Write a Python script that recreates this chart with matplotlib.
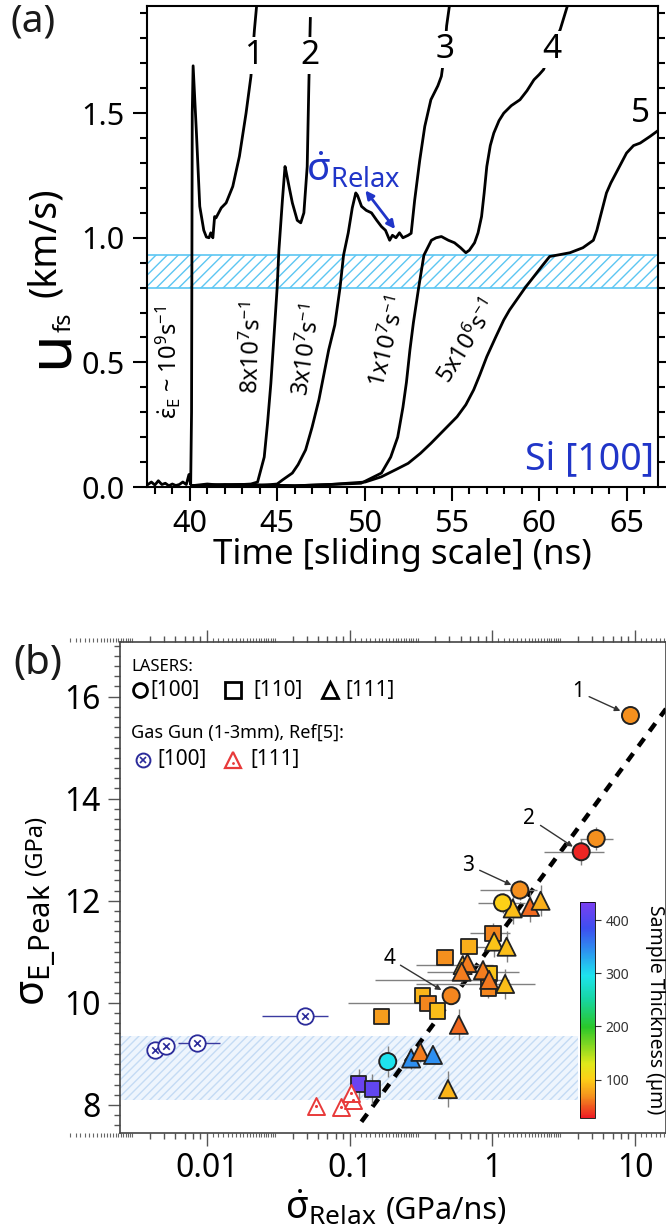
import numpy as np
import matplotlib
matplotlib.use("Agg")
import matplotlib.pyplot as plt
import matplotlib.transforms as mtrans
from matplotlib.colors import LinearSegmentedColormap, Normalize
from matplotlib.ticker import MultipleLocator, FixedLocator, FixedFormatter, NullFormatter, FormatStrFormatter

plt.rcParams['font.family'] = ['Noto Sans', 'DejaVu Sans']
plt.rcParams['mathtext.fontset'] = 'custom'
plt.rcParams['mathtext.rm'] = 'Noto Sans'
plt.rcParams['mathtext.it'] = 'Noto Sans'
plt.rcParams['mathtext.bf'] = 'Noto Sans:bold'
plt.rcParams['hatch.linewidth'] = 1.0

BLUE = '#2035c8'

# ---------------- panel (a) data : free surface velocity traces ----------------
# trace 1  (strain rate ~1e9 /s)
t_1 = [37.6, 37.8, 38.0, 38.2, 38.4, 38.6, 38.8, 39.0, 39.2, 39.4, 39.6, 39.8, 39.95, 40.05,
       40.1, 40.14, 40.19, 40.38, 40.57, 40.8, 40.95, 41.1, 41.2, 41.32, 41.42, 41.5, 41.8,
       42.08, 42.46, 42.84, 43.22, 43.5, 43.7, 43.85]
u_1 = [0.01, 0.02, 0.008, 0.025, 0.01, 0.015, 0.005, 0.012, 0.006, 0.01, 0.02, 0.01, 0.05, 0.01,
       0.3, 1.5, 1.69, 1.42, 1.126, 1.03, 1.003, 1.0, 1.02, 1.0, 1.085, 1.08, 1.12,
       1.14, 1.206, 1.327, 1.50, 1.648, 1.835, 1.95]
# trace 2  (8e7 /s)
t_2 = [40.1, 41.0, 42.0, 43.0, 43.5, 43.88, 44.26, 44.45, 44.64, 44.83, 45.0, 45.1, 45.2, 45.3,
       45.45, 45.5, 45.68, 45.87, 46.15, 46.35, 46.53, 46.72, 46.82, 46.9]
u_2 = [0.005, 0.012, 0.006, 0.01, 0.012, 0.02, 0.12, 0.256, 0.416, 0.617, 0.8, 0.95, 1.05, 1.15,
       1.286, 1.27, 1.206, 1.14, 1.07, 1.06, 1.1, 1.286, 1.634, 1.88]
# trace 3  (3e7 /s)
t_3 = [40.1, 42.0, 44.0, 45.0, 45.3, 45.87, 46.2, 46.63, 47.0, 47.39, 47.95, 48.3, 48.6, 48.8,
       49.07, 49.3, 49.5, 49.6, 49.83, 50.1, 50.4, 50.7, 50.97, 51.2, 51.44, 51.6, 51.8, 52.0,
       52.2, 52.5, 52.67, 52.87, 53.16, 53.45, 53.8, 54.2, 54.4, 54.6, 54.7, 54.9]
u_3 = [0.005, 0.01, 0.006, 0.012, 0.028, 0.056, 0.09, 0.149, 0.24, 0.35, 0.55, 0.65, 0.8, 0.93,
       1.02, 1.12, 1.18, 1.17, 1.126, 1.11, 1.10, 1.07, 1.045, 1.03, 0.99, 1.01, 1.0, 1.02,
       1.0, 1.01, 1.018, 1.15, 1.31, 1.447, 1.554, 1.61, 1.648, 1.75, 1.85, 1.95]
# trace 4  (1e7 /s)
t_4 = [40.1, 43.0, 46.0, 48.0, 49.8, 50.97, 51.5, 51.9, 52.2, 52.4, 52.6, 52.8, 53.1, 53.4,
       53.83, 54.1, 54.4, 54.8, 55.15, 55.5, 55.8, 56.0, 56.3, 56.5, 56.7, 56.85, 57.0, 57.2,
       57.4, 57.7, 57.97, 58.4, 58.9, 59.3, 59.7, 60.0, 60.25, 60.7, 61.2, 61.7]
u_4 = [0.005, 0.01, 0.005, 0.01, 0.015, 0.056, 0.12, 0.2, 0.32, 0.42, 0.55, 0.66, 0.8, 0.93,
       0.99, 1.0, 1.005, 0.99, 0.98, 0.96, 0.94, 0.95, 0.98, 1.02, 1.085, 1.18, 1.286, 1.37,
       1.42, 1.47, 1.50, 1.53, 1.554, 1.59, 1.634, 1.655, 1.675, 1.76, 1.835, 1.95]
# trace 5  (5e6 /s)
t_5 = [40.1, 43.0, 46.0, 48.0, 50.04, 50.97, 51.8, 52.5, 53.2, 53.8, 54.5, 55.3, 55.8, 56.25,
       56.6, 57.0, 57.5, 57.97, 58.3, 58.7, 59.2, 59.7, 60.2, 60.6, 61.0, 61.76, 62.5, 63.1,
       63.3, 63.5, 63.85, 64.1, 64.4, 64.7, 65.0, 65.4, 65.78, 66.35, 66.8]
u_5 = [0.005, 0.008, 0.005, 0.01, 0.02, 0.041, 0.07, 0.095, 0.135, 0.175, 0.225, 0.282, 0.33, 0.39,
       0.45, 0.523, 0.6, 0.67, 0.71, 0.75, 0.8, 0.845, 0.89, 0.925, 0.93, 0.94, 0.96, 0.99,
       1.03, 1.085, 1.18, 1.22, 1.26, 1.3, 1.34, 1.37, 1.38, 1.407, 1.43]

traces = [(t_1, u_1), (t_2, u_2), (t_3, u_3), (t_4, u_4), (t_5, u_5)]
trace_ids = ['1', '2', '3', '4', '5']
id_pos = [(43.65, 1.73), (46.85, 1.73), (54.6, 1.755), (60.7, 1.755), (65.8, 1.50)]
rate_labels = [r'$\dot{\varepsilon}_{\rm E}$ ~ 10$^{9}$s$^{-1}$', r'8x10$^{7}$s$^{-1}$',
               r'3x10$^{7}$s$^{-1}$', r'1x10$^{7}$s$^{-1}$', r'5x10$^{6}$s$^{-1}$']
rate_pos = [(38.75, 0.50), (43.6, 0.56), (46.75, 0.55), (51.4, 0.58), (55.9, 0.58)]
rate_rot = [90, 88, 82, 76, 58]
band_a = (0.80, 0.93)

# ---------------- panel (b) data : peak elastic stress vs relaxation rate ----------------
# laser shots, circles = [100]
c_x = [9.3, 5.35, 4.2, 1.56, 1.18, 0.515, 0.185]
c_y = [15.63, 13.22, 12.96, 12.21, 11.96, 10.14, 8.85]
c_th = [69, 69, 32, 69, 101, 66, 296]
c_xlo = [9.3, 4.1, 2.3, 0.82, 0.8, 0.515, 0.185]
c_xhi = [9.3, 7.0, 6.1, 2.05, 1.7, 0.515, 0.185]
c_ye = [0, 0.23, 0.25, 0.2, 0.2, 0, 0.3]
# squares = [110]
s_x = [1.01, 0.686, 0.466, 0.95, 0.94, 0.323, 0.354, 0.411, 0.167, 0.116, 0.144]
s_y = [11.36, 11.1, 10.89, 10.58, 10.29, 10.15, 9.99, 9.84, 9.74, 8.41, 8.31]
s_th = [66, 85, 69, 95, 66, 88, 66, 92, 75, 420, 412]
s_xlo = [0.70, 0.6, 0.466, 0.95, 0.94, 0.323, 0.097, 0.411, 0.167, 0.116, 0.144]
s_xhi = [1.33, 0.95, 0.466, 0.95, 0.94, 0.323, 0.354, 0.411, 0.167, 0.116, 0.144]
s_ye = [0.2, 0, 0, 0, 0.2, 0, 0, 0, 0, 0.3, 0.3]
# triangles = [111]
tr_x = [1.39, 1.84, 2.18, 1.03, 1.26, 0.62, 0.67, 0.61, 0.86, 0.95, 1.23, 0.583, 0.27, 0.313, 0.384, 0.489]
tr_y = [11.85, 11.88, 12.0, 11.2, 11.1, 10.74, 10.78, 10.61, 10.64, 10.45, 10.37, 9.57, 8.91, 9.04, 8.98, 8.31]
tr_th = [92, 56, 85, 95, 92, 85, 62, 62, 62, 60, 92, 56, 345, 62, 345, 88]
tr_xlo = [1.39, 1.84, 2.18, 1.03, 1.26, 0.29, 0.67, 0.35, 0.86, 0.15, 0.29, 0.583, 0.27, 0.313, 0.384, 0.489]
tr_xhi = [1.39, 1.84, 2.18, 1.03, 1.26, 1.01, 0.67, 1.55, 0.86, 1.3, 2.0, 0.583, 0.27, 0.313, 0.384, 0.489]
tr_ye = [0.3, 0.3, 0.3, 0.3, 0.3, 0.2, 0.2, 0.2, 0.2, 0.25, 0.3, 0.3, 0.2, 0.2, 0.15, 0.35]
# gas gun, Ref[5]
gg100_x = [0.00433, 0.00514, 0.00847, 0.0487]
gg100_y = [9.08, 9.16, 9.22, 9.74]
gg100_xlo = [0.00433, 0.00514, 0.0063, 0.0242]
gg100_xhi = [0.00433, 0.00514, 0.0123, 0.0707]
gg111_x = [0.058, 0.0865, 0.105, 0.103]
gg111_y = [7.98, 7.95, 8.10, 8.24]
# dashed trend line end points
fit_x = [0.121, 16.5]
fit_y = [7.67, 15.76]
band_b = (8.10, 9.36)
band_b_xmax = 3.98
# callout labels
call_txt = ['1', '2', '3', '4']
call_txt_pos = [(3.98, 16.1), (1.82, 13.62), (0.68, 12.7), (0.19, 10.87)]
call_pt = [(7.9, 15.72), (3.67, 13.06), (1.36, 12.31), (0.44, 10.25)]

thick_min, thick_max = 28, 434

# ================= figure =================
fig = plt.figure(figsize=(6.66, 12.3), dpi=100)
W, H = 666.0, 1230.0

def fx(px):
    return px / W

def fy(py):
    return 1 - py / H

# ---------- panel (a) ----------
ax1 = fig.add_axes([fx(147), fy(487), fx(658) - fx(147), fy(6) - fy(487)])
for (t, u) in traces:
    ax1.plot(t, u, color='black', lw=2.0, zorder=3)
ax1.axhspan(band_a[0], band_a[1], facecolor='none', edgecolor='#5cc6f2', hatch='///', lw=1.2, zorder=1)
for s, (x, y) in zip(trace_ids, id_pos):
    ax1.text(x, y, s, fontsize=24, ha='center', va='center', zorder=5,
             bbox=dict(facecolor='white', edgecolor='none', pad=1.5))
for s, (x, y), r in zip(rate_labels, rate_pos, rate_rot):
    ax1.text(x, y, s, fontsize=17, rotation=r, ha='center', va='center', zorder=4)
ax1.text(49.35, 1.27, r'$\dot{\sigma}_{\rm Relax}$', fontsize=28, color=BLUE, ha='center', va='center')
ax1.annotate('', xy=(51.75, 1.035), xytext=(50.05, 1.19),
             arrowprops=dict(arrowstyle='<|-|>', color=BLUE, lw=2, mutation_scale=12, shrinkA=0, shrinkB=0))
ax1.text(66.6, 0.035, 'Si [100]', fontsize=27, color=BLUE, ha='right', va='bottom')

ax1.set_xlim(37.55, 66.8)
ax1.set_ylim(0.0, 1.93)
ax1.xaxis.set_major_locator(MultipleLocator(5))
ax1.xaxis.set_minor_locator(MultipleLocator(1))
ax1.yaxis.set_major_locator(MultipleLocator(0.5))
ax1.yaxis.set_minor_locator(MultipleLocator(0.1))
ax1.yaxis.set_major_formatter(FormatStrFormatter('%.1f'))
ax1.tick_params(which='both', direction='out', width=1.5, top=False, right=True, labelright=False)
ax1.tick_params(which='major', length=10, labelsize=22, pad=6)
ax1.tick_params(which='minor', length=5)
for sp in ax1.spines.values():
    sp.set_linewidth(1.5)

fig.text(fx(402), fy(538), 'Time [sliding scale] (ns)', fontsize=25, ha='center', va='top')
fig.text(fx(67), fy(368), 'u', fontsize=44, rotation=90, rotation_mode='anchor', ha='left', va='baseline')
fig.text(fx(71), fy(332), 'fs', fontsize=17, rotation=90, rotation_mode='anchor', ha='left', va='baseline')
fig.text(fx(55), fy(297), '(km/s)', fontsize=27, rotation=90, rotation_mode='anchor', ha='left', va='baseline')
fig.text(fx(11), fy(2), '(a)', fontsize=28, ha='left', va='top', color='#1a1a1a')

# ---------- panel (b) ----------
ax2 = fig.add_axes([fx(120), fy(1133), fx(666) - fx(120), fy(642) - fy(1133)])
ax2.set_xscale('log')
ax2.set_xlim(0.00246, 16.5)
ax2.set_ylim(7.45, 17.07)

cmap = LinearSegmentedColormap.from_list('thick', [
    (0.0, '#ed1c24'), (0.05, '#f0561f'), (0.1, '#f5921e'), (0.18, '#fdd017'),
    (0.25, '#e0e81a'), (0.42, '#2ac72a'), (0.55, '#17d6a2'), (0.66, '#1ee3ee'),
    (0.78, '#2e8ff0'), (0.88, '#3d4ff0'), (1.0, '#7b3ff2')])
norm = Normalize(thick_min, thick_max)

ax2.fill_between([0.00246, band_b_xmax], band_b[0], band_b[1], facecolor='#eef5fd', edgecolor='none', zorder=0)
ax2.fill_between([0.00246, band_b_xmax], band_b[0], band_b[1], facecolor='none', edgecolor='#c4dbf4',
                 hatch='////', lw=0, zorder=0)
ax2.plot(fit_x, fit_y, color='black', lw=3.2, dashes=(2.2, 2.0), zorder=2)

ecol = '#808080'
def errs(x, lo, hi):
    x = np.array(x); return [x - np.array(lo), np.array(hi) - x]

ax2.errorbar(c_x, c_y, xerr=errs(c_x, c_xlo, c_xhi), yerr=c_ye, fmt='none', ecolor=ecol, elinewidth=1, zorder=3)
ax2.errorbar(s_x, s_y, xerr=errs(s_x, s_xlo, s_xhi), yerr=s_ye, fmt='none', ecolor=ecol, elinewidth=1, zorder=3)
ax2.errorbar(tr_x, tr_y, xerr=errs(tr_x, tr_xlo, tr_xhi), yerr=tr_ye, fmt='none', ecolor=ecol, elinewidth=1, zorder=3)
ax2.errorbar(gg100_x, gg100_y, xerr=errs(gg100_x, gg100_xlo, gg100_xhi), fmt='none', ecolor='#3a3aa0',
             elinewidth=1, zorder=3)

ax2.scatter(s_x, s_y, c=s_th, cmap=cmap, norm=norm, marker='s', s=120, edgecolors='#222', linewidths=1.3, zorder=4)
ax2.scatter(tr_x, tr_y, c=tr_th, cmap=cmap, norm=norm, marker='^', s=170, edgecolors='#222', linewidths=1.3, zorder=5)
sc = ax2.scatter(c_x, c_y, c=c_th, cmap=cmap, norm=norm, marker='o', s=150, edgecolors='#222', linewidths=1.4, zorder=6)
ax2.scatter(gg100_x, gg100_y, facecolors='white', edgecolors='#2b2b9a', marker='o', s=140, linewidths=1.3, zorder=6)
ax2.scatter(gg100_x, gg100_y, color='#2b2b9a', marker='x', s=22, linewidths=1.2, zorder=7)
ax2.scatter(gg111_x, gg111_y, facecolors='white', edgecolors='#e83a3a', marker='^', s=150, linewidths=1.4, zorder=6)
ax2.scatter(gg111_x, gg111_y, color='#e83a3a', marker='.', s=6, zorder=7)

for s, tp, pp in zip(call_txt, call_txt_pos, call_pt):
    ax2.annotate(s, xy=pp, xytext=tp, fontsize=15, ha='center', va='center', zorder=8,
                 arrowprops=dict(arrowstyle='-|>', color='#333', lw=1.0, mutation_scale=8, shrinkA=2, shrinkB=0))

# axis styling
ax2.yaxis.set_major_locator(MultipleLocator(2))
ax2.yaxis.set_minor_locator(MultipleLocator(0.2))
ax2.xaxis.set_major_locator(FixedLocator([0.01, 0.1, 1, 10]))
ax2.xaxis.set_major_formatter(FixedFormatter(['0.01', '0.1', '1', '10']))
minors = [m * 10.0 ** k for k in range(-3, 2) for m in range(4, 10)]
ax2.xaxis.set_minor_locator(FixedLocator(minors))
ax2.xaxis.set_minor_formatter(NullFormatter())
ax2.tick_params(which='both', direction='out', color='#555', width=1.0, top=True, labeltop=False)
ax2.tick_params(which='major', length=9, labelsize=23, pad=5)
ax2.tick_params(which='minor', length=4)
for sp in ax2.spines.values():
    sp.set_color('#444'); sp.set_linewidth(1.2)
# tiny sub-ticks between 1.1 and 3 of each decade
tiny = [m / 10.0 * 10.0 ** k for k in range(-3, 2) for m in range(11, 31)]
btr = mtrans.blended_transform_factory(ax2.transData, ax2.transAxes)
ax2.plot(tiny, [0] * len(tiny), ls='none', marker=3, ms=3, mew=0.8, color='#666', transform=btr, clip_on=False)
ax2.plot(tiny, [1] * len(tiny), ls='none', marker=2, ms=3, mew=0.8, color='#666', transform=btr, clip_on=False)

# legend block (marker keys)
ax2.text(0.021, 0.95, 'LASERS:', transform=ax2.transAxes, fontsize=12, ha='left', va='center')
key_y1, key_y2 = 0.902, 0.760
ax2.plot([0.037], [key_y1], transform=ax2.transAxes, marker='o', ms=10, mfc='white', mec='black', mew=2)
ax2.text(0.055, key_y1, '[100]', transform=ax2.transAxes, fontsize=15, ha='left', va='center')
ax2.plot([0.207], [key_y1], transform=ax2.transAxes, marker='s', ms=11, mfc='white', mec='black', mew=2)
ax2.text(0.245, key_y1, '[110]', transform=ax2.transAxes, fontsize=15, ha='left', va='center')
ax2.plot([0.385], [key_y1], transform=ax2.transAxes, marker='^', ms=12, mfc='white', mec='black', mew=2)
ax2.text(0.412, key_y1, '[111]', transform=ax2.transAxes, fontsize=15, ha='left', va='center')
ax2.text(0.021, 0.815, 'Gas Gun (1-3mm), Ref[5]:', transform=ax2.transAxes, fontsize=13, ha='left', va='center')
ax2.plot([0.042], [key_y2], transform=ax2.transAxes, marker='o', ms=10, mfc='white', mec='#2b2b9a', mew=1.4)
ax2.plot([0.042], [key_y2], transform=ax2.transAxes, marker='x', ms=4, mec='#2b2b9a', mew=1.2)
ax2.text(0.068, key_y2, '[100]', transform=ax2.transAxes, fontsize=15, ha='left', va='center')
ax2.plot([0.207], [key_y2], transform=ax2.transAxes, marker='^', ms=12, mfc='white', mec='#e83a3a', mew=1.6)
ax2.plot([0.207], [key_y2 - 0.006], transform=ax2.transAxes, marker='.', ms=2, color='#e83a3a')
ax2.text(0.238, key_y2, '[111]', transform=ax2.transAxes, fontsize=15, ha='left', va='center')

# colour bar
cax = fig.add_axes([fx(580), fy(1118), fx(595) - fx(580), fy(902) - fy(1118)])
cb = fig.colorbar(sc, cax=cax, ticks=[100, 200, 300, 400])
cb.outline.set_linewidth(0.6)
cb.ax.tick_params(labelsize=10, length=4, width=0.8, colors='#333')
fig.text(fx(655), fy(1010), 'Sample Thickness (µm)', fontsize=14, rotation=270, ha='center', va='center')

# panel (b) axis labels
fig.text(fx(285), fy(1219), r'$\dot{\sigma}_{\rm Relax}$', fontsize=27, ha='left', va='baseline')
fig.text(fx(386), fy(1219), '(GPa/ns)', fontsize=22, ha='left', va='baseline')
fig.text(fx(45), fy(1006), r'$\sigma_{\rm E\_Peak}$', fontsize=30, rotation=90, rotation_mode='anchor',
         ha='left', va='baseline')
fig.text(fx(42), fy(875), '(GPa)', fontsize=17, rotation=90, rotation_mode='anchor', ha='left', va='baseline')
fig.text(fx(13), fy(644), '(b)', fontsize=29, ha='left', va='top', color='#1a1a1a')

fig.savefig('out.png', dpi=100)
